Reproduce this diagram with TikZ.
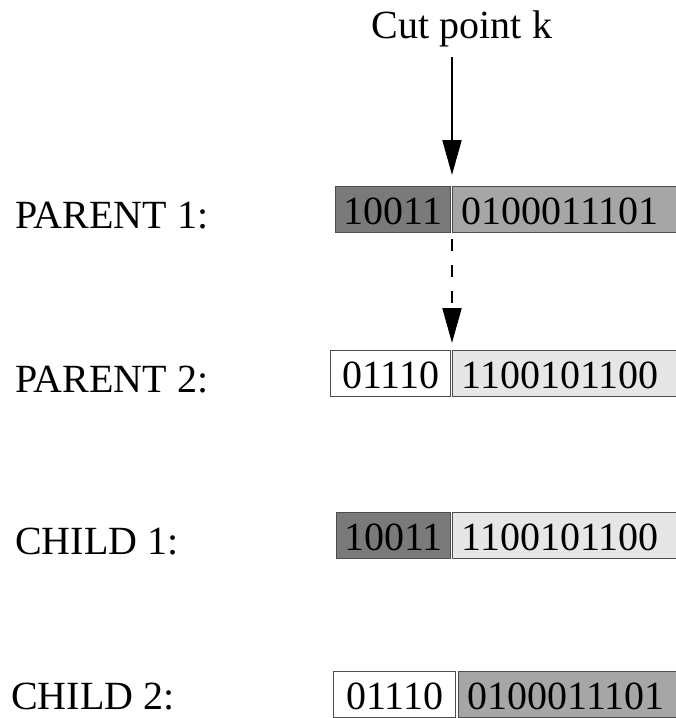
\documentclass[tikz,border=0pt]{standalone}
\usepackage{fontspec}
\setmainfont{Liberation Serif}
\usetikzlibrary{positioning, arrows.meta}
\definecolor{genedark} {HTML}{7A7A7A}
\definecolor{genemid}  {HTML}{A6A6A6}
\definecolor{genelight}{HTML}{E6E6E6}
\definecolor{geneedge} {HTML}{4D4D4D}

\begin{document}
\begin{tikzpicture}[x=1pt, y=-1pt,
    every node/.style={font=\fontsize{40}{44}\selectfont},
    rowlabel/.style={anchor=base west, inner sep=0pt},
    cell/.style={draw=geneedge, line width=1.2pt, anchor=north west,
                 minimum height=46pt, inner sep=0pt,
                 text height=29pt, text depth=0pt},
    headcell/.style={cell, minimum width=#1},
    tailcell/.style={cell, text width=222pt, align=left, inner xsep=9pt},
    cutarrow/.style={line width=2pt, -{Triangle[length=35pt, width=19pt]}}]
  \useasboundingbox (0,0) rectangle (676,718);
  \clip (0,0) rectangle (676,718);
  \node[rowlabel, anchor=base] (cut) at (462,38) {Cut point k};
  \foreach \name/\lbl/\lx/\ly/\top/\hx/\hw/\hcol/\htxt/\tx/\tcol/\ttxt in {%
      p1/PARENT 1:/15/228/186/335/115/genedark/10011/452/genemid/0100011101,
      p2/PARENT 2:/15/392/350/330/120/white/01110/452/genelight/1100101100,
      c1/CHILD 1:/15/554/512/336/114/genedark/10011/452/genelight/1100101100,
      c2/CHILD 2:/11/709/671/333/122/white/01110/458/genemid/0100011101}
  {
    \node[rowlabel] (\name-label) at (\lx,\ly) {\lbl};
    \node[headcell=\hw, fill=\hcol] (\name-head) at (\hx,\top) {\htxt};
    \node[tailcell, fill=\tcol] (\name-tail) at (\tx,\top) {\ttxt};
  }
  % cut point arrows
  \draw[cutarrow] ([yshift=-10pt]cut.south -| p1-tail.north west)
    -- ([yshift=11pt]p1-tail.north west);
  \draw[cutarrow, dash pattern=on 12pt off 14pt]
    ([yshift=-6pt]p1-tail.south west) -- ([yshift=7pt]p2-tail.north west);
\end{tikzpicture}
\end{document}
